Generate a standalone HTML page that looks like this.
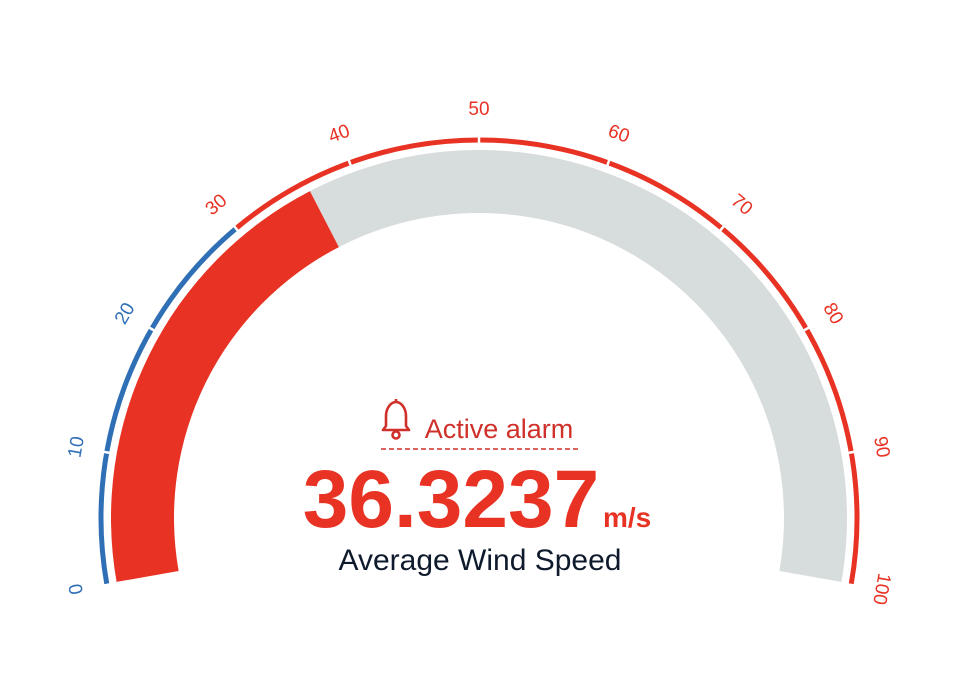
<!DOCTYPE html>
<html><head><meta charset="utf-8"><style>
html,body{margin:0;padding:0;background:#fff;}
svg{display:block;font-family:"Liberation Sans",sans-serif;}
</style></head><body>
<svg id="g" width="972" height="680" viewBox="0 0 972 680">
<g id="rings"></g>
<g id="ticks"></g>
<g id="labels"></g>
<g>
  <g transform="translate(396,412)" fill="none" stroke="#d0302a" stroke-width="2.6" stroke-linejoin="round">
    <path d="M-13,18 L13,18 L10,14 L10,4 C10,-4 5,-10 0,-10 C-5,-10 -10,-4 -10,4 L-10,14 Z"/>
    <circle cx="0" cy="23" r="3.5"/>
    <line x1="0" y1="-10" x2="0" y2="-13"/>
  </g>
  <text x="499" y="438" text-anchor="middle" font-size="27" fill="#d0302a">Active alarm</text>
  <line x1="381" y1="449" x2="580" y2="449" stroke="#d0302a" stroke-width="1.5" stroke-dasharray="5,3"/>
</g>
<text x="451" y="527" text-anchor="middle" font-size="82" font-weight="bold" fill="#e83324">36.3237</text>
<text x="603" y="527" text-anchor="start" font-size="28" font-weight="bold" fill="#e83324">m/s</text>
<text x="480" y="570" text-anchor="middle" font-size="30" fill="#0f1b2d">Average Wind Speed</text>
</svg>
<script>
const value = 36.3237;
const minVal = 0, maxVal = 100;
const tickValues = [0,10,20,30,40,50,60,70,80,90,100];
const thresholdValues = [30];
const cx=479, cy=518, ringR=378, bandOut=368, bandIn=305, labelR=408;
const NS="http://www.w3.org/2000/svg";
function ang(v){return (-100+200*(v-minVal)/(maxVal-minVal))*Math.PI/180;}
function pt(v,r){const a=ang(v);return [cx+r*Math.sin(a), cy-r*Math.cos(a)];}
function arcPath(v0,v1,r){const p0=pt(v0,r),p1=pt(v1,r);const large=(ang(v1)-ang(v0))>Math.PI?1:0;return `M${p0[0]},${p0[1]} A${r},${r} 0 ${large} 1 ${p1[0]},${p1[1]}`;}
function bandPath(v0,v1){const a=pt(v0,bandOut),b=pt(v1,bandOut),c=pt(v1,bandIn),d=pt(v0,bandIn);
 const l=(ang(v1)-ang(v0))>Math.PI?1:0;
 return `M${a[0]},${a[1]} A${bandOut},${bandOut} 0 ${l} 1 ${b[0]},${b[1]} L${c[0]},${c[1]} A${bandIn},${bandIn} 0 ${l} 0 ${d[0]},${d[1]} Z`;}
const rings=document.getElementById('rings');
function add(parent,tag,attrs){const e=document.createElementNS(NS,tag);for(const k in attrs)e.setAttribute(k,attrs[k]);parent.appendChild(e);return e;}
let e=add(rings,'path',{d:bandPath(value,maxVal),fill:'#d7dcdc'});


e=add(rings,'path',{d:bandPath(minVal,value),fill:'#e83324'});


e=add(rings,'path',{d:arcPath(minVal,thresholdValues[0],ringR),fill:'none',stroke:'#2f6fb5','stroke-width':5});


e=add(rings,'path',{d:arcPath(thresholdValues[0],maxVal,ringR),fill:'none',stroke:'#e83324','stroke-width':5});


const ticks=document.getElementById('ticks'), labels=document.getElementById('labels');
tickValues.forEach(v=>{
 if(v>minVal&&v<maxVal){const a=pt(v,ringR-5),b=pt(v,ringR+5);
  const t=add(ticks,'line',{x1:a[0],y1:a[1],x2:b[0],y2:b[1],stroke:'#fff','stroke-width':2.5});
  
  }
 const p=pt(v,labelR);const deg=ang(v)*180/Math.PI;
 const tx=add(labels,'text',{x:p[0],y:p[1],'text-anchor':'middle','dominant-baseline':'middle','font-size':19,fill:v<thresholdValues[0]?'#2f6fb5':'#e83324',transform:`rotate(${deg} ${p[0]} ${p[1]})`});
 tx.textContent=v;
 
 
});
</script>
</body></html>
